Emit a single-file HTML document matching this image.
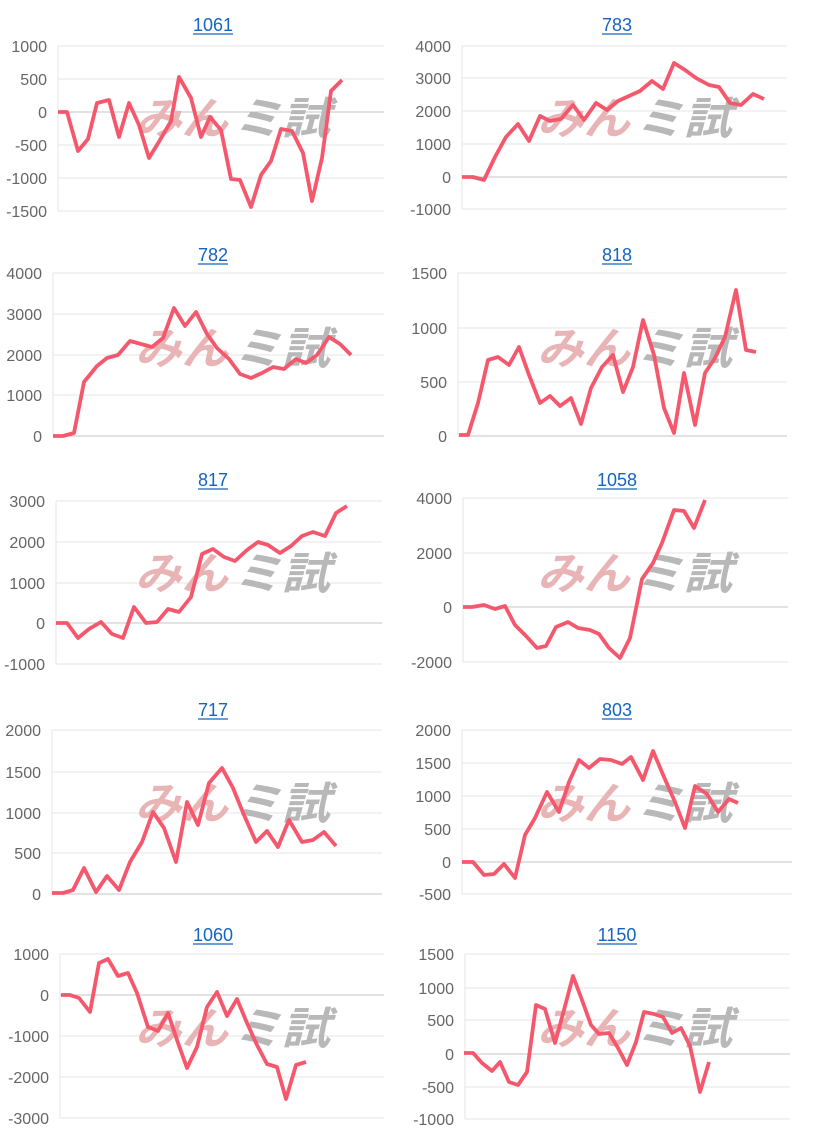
<!DOCTYPE html>
<html><head><meta charset="utf-8">
<style>
html,body{margin:0;padding:0;background:#fff;}
svg{display:block;}
text{font-family:"Liberation Sans","Noto Sans CJK JP",sans-serif;}
</style></head>
<body>
<svg id="s" width="814" height="1140" xmlns="http://www.w3.org/2000/svg"></svg>
<script>
var C=[
{t:"1061",cy:0,L:58,R:384,g:[[46,"1000"],[79,"500"],[112,"0",1],[145,"-500"],[178,"-1000"],[211,"-1500"]],
p:[[58,112],[67,112],[78,151],[88,139],[97,103],[109,100],[119,137],[129,103],[139,125],[149,158],[160,140],[171,121],[179,77],[191,98],[201,137],[210,117],[221,130],[231,179],[240,180],[251,207],[261,175],[271,161],[281,129],[292,131],[303,153],[312,201],[322,158],[331,91],[342,80]]},
{t:"783",cy:0,L:462,R:787,g:[[46,"4000"],[78,"3000"],[111,"2000"],[144,"1000"],[177,"0",1],[209,"-1000"]],
p:[[462,177],[473,177],[484,180],[495,157],[506,137],[518,124],[529,141],[540,116],[550,121],[561,119],[573,105],[584,120],[596,103],[607,110],[618,101],[629,96],[640,91],[652,81],[663,89],[674,63],[685,70],[696,78],[709,85],[719,87],[730,103],[741,105],[753,94],[764,99]]},
{t:"782",cy:230,L:53,R:384,g:[[273,"4000"],[314,"3000"],[355,"2000"],[395,"1000"],[436,"0",1]],
p:[[53,436],[63,436],[74,433],[84,382],[97,366],[107,358],[118,355],[130,341],[141,344],[152,347],[163,338],[174,308],[185,326],[196,312],[207,334],[217,348],[229,359],[240,374],[251,378],[262,373],[273,367],[284,369],[296,359],[306,363],[317,355],[329,337],[340,344],[351,355]]},
{t:"818",cy:230,L:458,R:787,g:[[273,"1500"],[328,"1000"],[382,"500"],[436,"0",1]],
p:[[459,435],[468,435],[478,403],[488,360],[498,357],[509,365],[519,347],[529,375],[540,403],[550,396],[560,406],[571,398],[581,424],[591,388],[602,367],[613,355],[623,392],[633,367],[643,320],[654,355],[664,408],[674,433],[684,373],[695,425],[705,373],[715,358],[725,337],[736,290],[746,350],[756,352]]},
{t:"817",cy:455,L:56,R:382,g:[[501,"3000"],[542,"2000"],[583,"1000"],[623,"0",1],[664,"-1000"]],
p:[[56,623],[67,623],[78,638],[89,629],[101,622],[112,634],[123,638],[134,607],[146,623],[157,622],[168,609],[179,612],[191,597],[202,554],[213,549],[224,557],[235,561],[247,550],[258,542],[268,545],[280,553],[291,546],[302,536],[313,532],[325,536],[336,513],[347,506]]},
{t:"1058",cy:455,L:463,R:788,g:[[498,"4000"],[553,"2000"],[607,"0",1],[662,"-2000"]],
p:[[463,607],[472,607],[484,605],[495,609],[505,606],[515,625],[526,636],[537,648],[546,646],[556,627],[568,622],[578,628],[590,630],[599,634],[609,648],[620,658],[630,638],[642,579],[653,563],[662,543],[674,510],[684,511],[694,528],[705,500]]},
{t:"717",cy:685,L:52,R:382,g:[[730,"2000"],[772,"1500"],[813,"1000"],[853,"500"],[894,"0",1]],
p:[[52,893],[63,893],[73,890],[84,868],[96,892],[107,876],[119,890],[130,862],[142,842],[153,812],[164,828],[176,862],[187,802],[198,825],[209,783],[222,768],[233,788],[244,815],[256,842],[267,831],[278,847],[289,820],[302,842],[313,840],[324,832],[336,846]]},
{t:"803",cy:685,L:462,R:792,g:[[730,"2000"],[763,"1500"],[796,"1000"],[829,"500"],[862,"0",1],[894,"-500"]],
p:[[462,862],[473,862],[484,875],[494,874],[504,864],[515,878],[525,835],[535,818],[547,792],[559,812],[569,782],[579,760],[589,768],[600,759],[611,760],[622,764],[631,757],[643,780],[653,751],[664,777],[675,802],[685,828],[695,786],[707,794],[718,812],[729,799],[738,803]]},
{t:"1060",cy:910,L:60,R:384,g:[[954,"1000"],[995,"0",1],[1036,"-1000"],[1077,"-2000"],[1118,"-3000"]],
p:[[61,995],[70,995],[79,998],[90,1012],[99,963],[108,959],[118,976],[128,973],[137,993],[148,1027],[158,1031],[168,1013],[177,1040],[187,1068],[197,1047],[207,1007],[217,992],[227,1016],[237,999],[247,1023],[257,1045],[267,1064],[277,1067],[286,1099],[296,1065],[306,1062]]},
{t:"1150",cy:910,L:465,R:790,g:[[954,"1500"],[988,"1000"],[1020,"500"],[1054,"0",1],[1087,"-500"],[1119,"-1000"]],
p:[[464,1053],[473,1053],[482,1063],[492,1071],[500,1062],[509,1082],[518,1085],[527,1072],[536,1005],[545,1009],[555,1043],[564,1010],[573,976],[582,1000],[591,1025],[599,1034],[609,1033],[618,1048],[627,1065],[636,1042],[644,1012],[654,1014],[663,1017],[672,1033],[681,1028],[690,1046],[700,1092],[709,1062]]}
];
var h="";
C.forEach(function(c,i){
  var right=i%2==1, cx=right?617:213;
  var top=c.g[0][0], bot=c.g[c.g.length-1][0];
  h+='<line x1="'+c.L+'" y1="'+top+'" x2="'+c.L+'" y2="'+bot+'" stroke="#e6e6e6" stroke-width="1"/>';
  c.g.forEach(function(g){
    h+='<line x1="'+c.L+'" y1="'+g[0]+'" x2="'+c.R+'" y2="'+g[0]+'" stroke="'+(g[2]?'#c4c4c4':'#e6e6e6')+'" stroke-width="1"/>';
    h+='<text x="'+(c.L-11)+'" y="'+(g[0]+6)+'" text-anchor="end" font-size="16" fill="#666">'+g[1]+'</text>';
  });
  var wx=right?537:135, wy=c.cy+134;
  h+='<text x="'+wx+'" y="'+wy+'" font-size="44" font-weight="bold" font-style="italic" fill="#e8b4b6" textLength="93" lengthAdjust="spacingAndGlyphs">みん</text>';
  h+='<text x="'+(wx+98)+'" y="'+wy+'" font-size="44" font-weight="bold" font-style="italic" fill="#b8b8b8" textLength="97" lengthAdjust="spacingAndGlyphs">ミ試</text>';
  h+='<polyline fill="none" stroke="#f5576c" stroke-width="3.8" stroke-linejoin="round" points="'+c.p.map(function(q){return q.join(",")}).join(" ")+'"/>';
  h+='<text x="'+cx+'" y="'+(c.cy+31)+'" text-anchor="middle" font-size="18" fill="#1565c0">'+c.t+'</text>';
  var w=c.t.length*10;
  h+='<line x1="'+(cx-w/2)+'" y1="'+(c.cy+34)+'" x2="'+(cx+w/2)+'" y2="'+(c.cy+34)+'" stroke="#1565c0" stroke-width="1.3"/>';
});
document.getElementById("s").innerHTML=h;
</script>
</body></html>
